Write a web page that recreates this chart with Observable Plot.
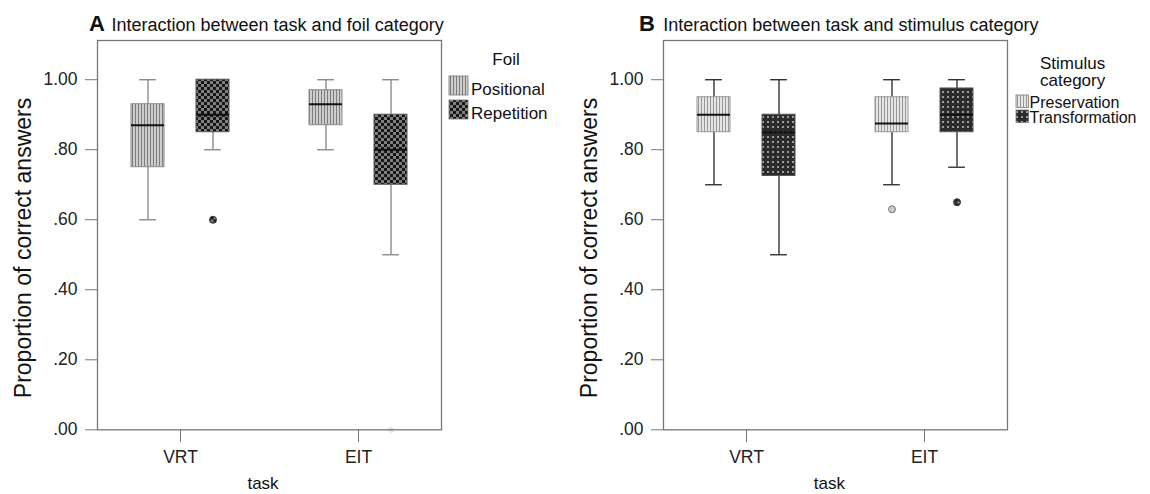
<!DOCTYPE html>
<html><head><meta charset="utf-8">
<script src="https://cdn.jsdelivr.net/npm/d3@7"></script>
<script src="https://cdn.jsdelivr.net/npm/@observablehq/plot@0.6"></script>
<style>
html,body{margin:0;padding:0;background:#fff;overflow:hidden;}
#page{position:relative;width:1150px;height:494px;font-family:"Liberation Sans",Arial,sans-serif;overflow:hidden;}
#page > svg{position:absolute;}
</style></head><body><div id="page"></div>
<script>
// ---------- data ----------
const tasks = ["VRT", "EIT"];
const yTicks = [0, 0.2, 0.4, 0.6, 0.8, 1.0];

// Panel A: foil category
const foilSeries = ["Positional", "Repetition"];
const positionalMin = [0.60, 0.80];
const positionalQ1  = [0.75, 0.87];
const positionalMed = [0.87, 0.93];
const positionalQ3  = [0.93, 0.97];
const positionalMax = [1.00, 1.00];
const repetitionMin = [0.80, 0.50];
const repetitionQ1  = [0.85, 0.70];
const repetitionMed = [0.90, 0.80];
const repetitionQ3  = [1.00, 0.90];
const repetitionMax = [1.00, 1.00];
const foilOutlierTask   = ["VRT"];
const foilOutlierSeries = ["Repetition"];
const foilOutlierValue  = [0.60];
const foilExtremeTask   = ["EIT"];
const foilExtremeSeries = ["Repetition"];
const foilExtremeValue  = [0.00];

// Panel B: stimulus category
const stimSeries = ["Preservation", "Transformation"];
const preservationMin = [0.70, 0.70];
const preservationQ1  = [0.85, 0.85];
const preservationMed = [0.90, 0.875];
const preservationQ3  = [0.95, 0.95];
const preservationMax = [1.00, 1.00];
const transformationMin = [0.50, 0.75];
const transformationQ1  = [0.725, 0.85];
const transformationMed = [0.85, 0.90];
const transformationQ3  = [0.90, 0.975];
const transformationMax = [1.00, 1.00];
const stimOutlierTask   = ["EIT", "EIT"];
const stimOutlierSeries = ["Preservation", "Transformation"];
const stimOutlierValue  = [0.63, 0.65];

// ---------- build tables ----------
function statRows(series, stats) {
  const rows = [];
  series.forEach((s, si) => tasks.forEach((t, ti) => rows.push({
    task: t, series: s, si,
    min: stats[si][0][ti], q1: stats[si][1][ti], med: stats[si][2][ti],
    q3: stats[si][3][ti], max: stats[si][4][ti]
  })));
  return rows;
}
function pointRows(series, T, S, V) {
  return T.map((t, i) => ({task: t, series: S[i], si: series.indexOf(S[i]), value: V[i]}));
}
const foilRows = statRows(foilSeries, [
  [positionalMin, positionalQ1, positionalMed, positionalQ3, positionalMax],
  [repetitionMin, repetitionQ1, repetitionMed, repetitionQ3, repetitionMax]
]);
const stimRows = statRows(stimSeries, [
  [preservationMin, preservationQ1, preservationMed, preservationQ3, preservationMax],
  [transformationMin, transformationQ1, transformationMed, transformationQ3, transformationMax]
]);
const foilOut = pointRows(foilSeries, foilOutlierTask, foilOutlierSeries, foilOutlierValue);
const foilExt = pointRows(foilSeries, foilExtremeTask, foilExtremeSeries, foilExtremeValue);
const stimOut = pointRows(stimSeries, stimOutlierTask, stimOutlierSeries, stimOutlierValue);

// ---------- patterns ----------
const page = d3.select("#page");
const defsSvg = page.append("svg").attr("width", 0).attr("height", 0).style("position", "absolute");
defsSvg.append("defs").html(`
  <pattern id="stripesA" patternUnits="userSpaceOnUse" width="3" height="3">
    <rect width="3" height="3" fill="#cdcdcd"/><rect x="0" width="1" height="3" fill="#7c7c7c"/>
  </pattern>
  <pattern id="checkA" patternUnits="userSpaceOnUse" width="6" height="6">
    <rect width="6" height="6" fill="#808080"/><rect width="3" height="3" fill="#161616"/><rect x="3" y="3" width="3" height="3" fill="#161616"/>
  </pattern>
  <pattern id="stripesB" patternUnits="userSpaceOnUse" width="3" height="3">
    <rect width="3" height="3" fill="#e4e4e4"/><rect x="0" width="1" height="3" fill="#999"/>
  </pattern>
  <pattern id="dotsB" patternUnits="userSpaceOnUse" width="5" height="5">
    <rect width="5" height="5" fill="#2b2b2b"/><rect x="1" y="1" width="2" height="2" fill="#9a9a9a"/>
  </pattern>
`);

// ---------- panels ----------
const OFF = 0.1826, BOX = 0.0927, CAP = 0.047;
const xpos = d => tasks.indexOf(d.task) + (d.si === 0 ? -OFF : OFF);
const fmt = d => d3.format(".2f")(d).replace(/^0/, "");

function panel({rows, outs, exts, fills, whisker, boxStrokes, outStrokes}) {
  const marks = [
    Plot.ruleX(rows, {x: xpos, y1: "min", y2: "max", stroke: whisker, strokeWidth: 1.4}),
    Plot.ruleY(rows, {y: "min", x1: d => xpos(d) - CAP, x2: d => xpos(d) + CAP, stroke: whisker, strokeWidth: 1.4}),
    Plot.ruleY(rows, {y: "max", x1: d => xpos(d) - CAP, x2: d => xpos(d) + CAP, stroke: whisker, strokeWidth: 1.4})
  ];
  [0, 1].forEach(si => {
    const r = rows.filter(d => d.si === si);
    marks.push(Plot.rect(r, {x1: d => xpos(d) - BOX, x2: d => xpos(d) + BOX, y1: "q1", y2: "q3",
      fill: fills[si], stroke: boxStrokes[si], strokeWidth: 1}));
    const o = outs.filter(d => d.si === si);
    marks.push(Plot.dot(o, {x: xpos, y: "value", r: 3.5, fill: fills[si], stroke: outStrokes[si], strokeWidth: 1}));
  });
  marks.push(Plot.ruleY(rows, {y: "med", x1: d => xpos(d) - BOX, x2: d => xpos(d) + BOX, stroke: "#111", strokeWidth: 2}));
  if (exts) marks.push(Plot.dot(exts, {x: xpos, y: "value", r: 3, symbol: "asterisk", stroke: "#cfcfcf", strokeWidth: 1}));
  marks.push(Plot.frame({stroke: "#777", strokeWidth: 1.3}));
  const svg = Plot.plot({
    width: 575, height: 494,
    marginLeft: 97, marginRight: 134, marginTop: 40, marginBottom: 64.7,
    style: {fontSize: "17.5px", fontFamily: "Liberation Sans, Arial, sans-serif", color: "#777", background: "transparent"},
    x: {type: "linear", domain: [-0.4663, 1.4663], ticks: [0, 1], tickFormat: i => tasks[i], tickSize: 13, tickPadding: 8, label: null},
    y: {domain: [0, 1.112], ticks: yTicks, tickFormat: fmt, tickSize: 12, tickPadding: 8, label: null},
    marks
  });
  d3.select(svg).selectAll("text").attr("fill", "#222");
  return svg;
}

const svgA = panel({rows: foilRows, outs: foilOut, exts: foilExt, fills: ["url(#stripesA)", "url(#checkA)"],
  whisker: "#8c8c8c", boxStrokes: ["#8a8a8a", "#555"], outStrokes: ["#777", "#333"]});
const svgB = panel({rows: stimRows, outs: stimOut, exts: null, fills: ["url(#stripesB)", "url(#dotsB)"],
  whisker: "#333", boxStrokes: ["#999", "#555"], outStrokes: ["#777", "#333"]});
d3.select(svgA).style("left", "0px").style("top", "0px");
d3.select(svgB).style("left", "566.3px").style("top", "0px");
document.getElementById("page").append(svgA, svgB);

// ---------- titles, axis titles, legends ----------
const ov = page.append("svg").attr("width", 1150).attr("height", 494)
  .style("position", "absolute").style("left", "0px").style("top", "0px")
  .attr("font-family", "Liberation Sans, Arial, sans-serif").attr("fill", "#111");

function titles(dx, letter, letterX, text, textX) {
  ov.append("text").attr("x", letterX).attr("y", 31).attr("font-size", 22).attr("font-weight", "bold").text(letter);
  ov.append("text").attr("x", textX).attr("y", 31).attr("font-size", 18).text(text);
  ov.append("text").attr("transform", `translate(${dx + 31},248) rotate(-90)`).attr("text-anchor", "middle")
    .attr("font-size", 23).text("Proportion of correct answers");
  ov.append("text").attr("x", dx + 263).attr("y", 489).attr("text-anchor", "middle").attr("font-size", 17).text("task");
}
titles(0, "A", 89, "Interaction between task and foil category", 111.5);
titles(566.3, "B", 639, "Interaction between task and stimulus category", 663.3);

// legend A
ov.append("text").attr("x", 506).attr("y", 65).attr("text-anchor", "middle").attr("font-size", 17).text("Foil");
foilSeries.forEach((s, i) => {
  const y = 76 + i * 24;
  ov.append("rect").attr("x", 449).attr("y", y).attr("width", 19).attr("height", 19)
    .attr("fill", i === 0 ? "url(#stripesA)" : "url(#checkA)").attr("stroke", "#777").attr("stroke-width", 0.8);
  ov.append("text").attr("x", 471).attr("y", y + 19).attr("font-size", 17).text(s);
});
// legend B
ov.append("text").attr("x", 1040).attr("y", 69).attr("font-size", 17).text("Stimulus");
ov.append("text").attr("x", 1040).attr("y", 86).attr("font-size", 17).text("category");
stimSeries.forEach((s, i) => {
  const y = 95 + i * 15;
  ov.append("rect").attr("x", 1016).attr("y", y).attr("width", 12.5).attr("height", 12.5)
    .attr("fill", i === 0 ? "url(#stripesB)" : "url(#dotsB)").attr("stroke", "#777").attr("stroke-width", 0.8);
  ov.append("text").attr("x", 1029.5).attr("y", y + 12.5).attr("font-size", 16).text(s);
});
</script>
</body></html>
